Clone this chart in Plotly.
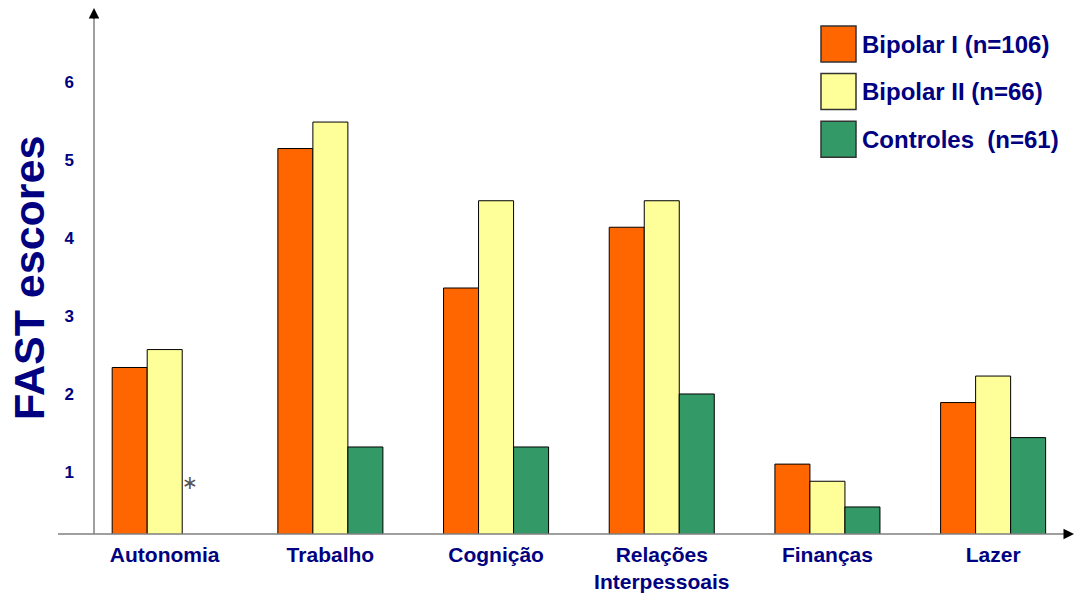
import plotly.graph_objects as go

categories = ["Autonomia", "Trabalho", "Cognição", "Relações<br>Interpessoais", "Finanças", "Lazer"]
series_names = ["Bipolar I (n=106)", "Bipolar II (n=66)", "Controles  (n=61)"]
bipolar1 = [2.34, 5.15, 3.36, 4.14, 1.10, 1.89]
bipolar2 = [2.57, 5.49, 4.48, 4.48, 0.88, 2.23]
controles = [None, 1.32, 1.32, 2.00, 0.55, 1.44]
tick_values = [1, 2, 3, 4, 5, 6]
tick_labels = ["1", "2", "3", "4", "5", "6"]
y_title = "FAST escores"

colors = ["#FF6600", "#FFFF99", "#339966"]
navy = "#000080"

W, H = 1075, 597
L, R, T, B = 94, 5, 10, 63
PW, PH = W - L - R, H - T - B


def px(xp):
    return (xp - L) / PW


def py(yp):
    return (H - B - yp) / PH


fig = go.Figure()
for name, vals, col in zip(series_names, [bipolar1, bipolar2, controles], colors):
    fig.add_trace(go.Bar(
        x=categories, y=vals, name=name,
        marker=dict(color=col, line=dict(color="#000000", width=1)),
        showlegend=False,
    ))

# custom legend
for i, (name, col) in enumerate(zip(series_names, colors)):
    top = 26 + i * 47.6
    fig.add_shape(type="rect", xref="paper", yref="paper",
                  x0=px(821), x1=px(856), y0=py(top + 36), y1=py(top),
                  fillcolor=col, line=dict(color="#333333", width=1.5))
    fig.add_annotation(xref="paper", yref="paper", x=px(860), y=py(top + 18),
                       text="<b>%s</b>" % name, showarrow=False,
                       xanchor="left", yanchor="middle",
                       font=dict(family="Liberation Sans, Arial", size=24, color=navy))

# axis lines
fig.add_shape(type="line", xref="paper", yref="paper",
              x0=px(94), x1=px(94), y0=py(534), y1=py(14),
              line=dict(color="#7f7f7f", width=1.5))
fig.add_shape(type="line", xref="paper", yref="paper",
              x0=px(58), x1=px(1070), y0=py(534), y1=py(534),
              line=dict(color="#7f7f7f", width=1.5))
# arrow heads
fig.add_annotation(xref="paper", yref="paper", x=px(94), y=py(8), ax=0, ay=12,
                   text="", showarrow=True, arrowhead=2, arrowsize=1.4,
                   arrowwidth=1.5, arrowcolor="#000000")
fig.add_annotation(xref="paper", yref="paper", x=px(1075), y=py(534), ax=-12, ay=0,
                   text="", showarrow=True, arrowhead=2, arrowsize=1.4,
                   arrowwidth=1.5, arrowcolor="#000000")

# asterisk for missing control value
fig.add_annotation(xref="x", yref="y", x=categories[0], y=0.87, xshift=25,
                   text="∗", showarrow=False,
                   font=dict(family="DejaVu Sans", size=19, color="#555555"))

# y title
fig.add_annotation(xref="paper", yref="paper", x=px(29), y=py(278),
                   text="<b>%s</b>" % y_title, textangle=-90, showarrow=False,
                   xanchor="center", yanchor="middle",
                   font=dict(family="Liberation Sans, Arial", size=43, color=navy))

fig.update_layout(
    width=W, height=H,
    margin=dict(l=L, r=R, t=T, b=B, pad=0, autoexpand=False),
    paper_bgcolor="white", plot_bgcolor="white",
    barmode="group", bargap=0.366, bargroupgap=0,
    font=dict(family="Liberation Sans, Arial", color=navy),
    xaxis=dict(range=[-0.4267, 5.464], showline=False, showgrid=False,
               zeroline=False, ticks="", tickangle=0, automargin=False,
               tickvals=categories,
               ticktext=["<b>%s</b>" % c for c in categories],
               tickfont=dict(family="Liberation Sans, Arial", size=21, color=navy),
               ticklabelstandoff=6),
    yaxis=dict(range=[0.203, 6.928], tickvals=tick_values, automargin=False,
               ticktext=["<b>%s</b>" % t for t in tick_labels],
               showline=False, showgrid=False, zeroline=False, ticks="",
               tickfont=dict(family="Liberation Sans, Arial", size=17, color=navy),
               ticklabelstandoff=19),
)

fig.write_html("out.html")
